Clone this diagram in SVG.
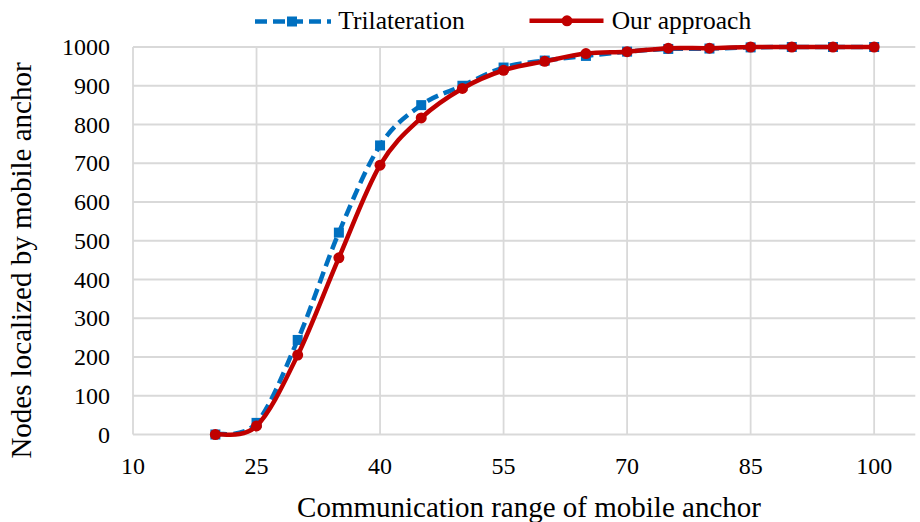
<svg xmlns="http://www.w3.org/2000/svg" width="920" height="522" viewBox="0 0 920 522">
<style>
text{font-family:"Liberation Serif","Times New Roman",serif;fill:#000}
.grid line{stroke:#D9D9D9;stroke-width:1.8}
.yt{font-size:24px;text-anchor:end}
.xt{font-size:24px;text-anchor:middle}
.leg{font-size:25.5px}
.title{font-size:29px;text-anchor:middle}
.blue{fill:none;stroke:#0070C0;stroke-width:4.5;stroke-dasharray:12 6}
.red{fill:none;stroke:#C00000;stroke-width:4.5;stroke-linejoin:round}
</style>
<defs>
<rect id="sq" x="-5" y="-5" width="10" height="10" fill="#0070C0"/>
<circle id="dot" r="5.5" fill="#C00000"/>
</defs>
<rect width="920" height="522" fill="#fff"/>
<g id="gridlines" class="grid">
<line x1="133" y1="47" x2="915.3" y2="47"/>
<line x1="133" y1="85.75" x2="915.3" y2="85.75"/>
<line x1="133" y1="124.5" x2="915.3" y2="124.5"/>
<line x1="133" y1="163.25" x2="915.3" y2="163.25"/>
<line x1="133" y1="202" x2="915.3" y2="202"/>
<line x1="133" y1="240.75" x2="915.3" y2="240.75"/>
<line x1="133" y1="279.5" x2="915.3" y2="279.5"/>
<line x1="133" y1="318.25" x2="915.3" y2="318.25"/>
<line x1="133" y1="357" x2="915.3" y2="357"/>
<line x1="133" y1="395.75" x2="915.3" y2="395.75"/>
<line x1="133" y1="434.5" x2="915.3" y2="434.5"/>
<line x1="133" y1="47" x2="133" y2="434.5"/>
<line x1="256.53" y1="47" x2="256.53" y2="434.5"/>
<line x1="380.05" y1="47" x2="380.05" y2="434.5"/>
<line x1="503.58" y1="47" x2="503.58" y2="434.5"/>
<line x1="627.1" y1="47" x2="627.1" y2="434.5"/>
<line x1="750.63" y1="47" x2="750.63" y2="434.5"/>
<line x1="874.15" y1="47" x2="874.15" y2="434.5"/>
</g>
<g id="y-ticks">
<text class="yt" x="110" y="55.1">1000</text>
<text class="yt" x="110" y="93.85">900</text>
<text class="yt" x="110" y="132.6">800</text>
<text class="yt" x="110" y="171.35">700</text>
<text class="yt" x="110" y="210.1">600</text>
<text class="yt" x="110" y="248.85">500</text>
<text class="yt" x="110" y="287.6">400</text>
<text class="yt" x="110" y="326.35">300</text>
<text class="yt" x="110" y="365.1">200</text>
<text class="yt" x="110" y="403.85">100</text>
<text class="yt" x="110" y="442.6">0</text>
</g>
<g id="x-ticks">
<text class="xt" x="133" y="473.5">10</text>
<text class="xt" x="256.53" y="473.5">25</text>
<text class="xt" x="380.05" y="473.5">40</text>
<text class="xt" x="503.58" y="473.5">55</text>
<text class="xt" x="627.1" y="473.5">70</text>
<text class="xt" x="750.63" y="473.5">85</text>
<text class="xt" x="874.15" y="473.5">100</text>
</g>
<g id="axis-titles">
<text class="title" x="529" y="517">Communication range of mobile anchor</text>
<text class="title" transform="translate(31,260.5) rotate(-90)" x="0" y="0">Nodes localized by mobile anchor</text>
</g>
<g id="connectors">
<path id="series-trilateration" class="blue" d="M215.35,434.5 C222.21,432.56 242.81,438.64 256.53,422.88 C270.26,407.12 283.98,371.66 297.70,339.95 C311.43,308.24 325.16,265.03 338.88,232.61 C352.61,200.19 366.33,166.68 380.05,145.43 C393.78,124.18 407.51,115.08 421.23,105.13 C434.96,95.18 448.68,92.02 462.40,85.75 C476.13,79.48 489.86,71.74 503.58,67.54 C517.31,63.34 531.03,62.5 544.75,60.56 C558.48,58.62 572.21,57.4 585.93,55.91 C599.66,54.42 613.38,52.81 627.10,51.65 C640.83,50.49 654.56,49.46 668.28,48.94 C682.01,48.42 695.73,48.81 709.45,48.55 C723.18,48.29 736.91,47.65 750.63,47.39 C764.36,47.13 778.08,47.07 791.80,47 L832.98,47 L874.15,47"/>
</g>
<g id="markers-trilateration">
<use href="#sq" x="215.35" y="434.5"/>
<use href="#sq" x="256.53" y="422.88"/>
<use href="#sq" x="297.70" y="339.95"/>
<use href="#sq" x="338.88" y="232.61"/>
<use href="#sq" x="380.05" y="145.43"/>
<use href="#sq" x="421.23" y="105.13"/>
<use href="#sq" x="462.40" y="85.75"/>
<use href="#sq" x="503.58" y="67.54"/>
<use href="#sq" x="544.75" y="60.56"/>
<use href="#sq" x="585.93" y="55.91"/>
<use href="#sq" x="627.10" y="51.65"/>
<use href="#sq" x="668.28" y="48.94"/>
<use href="#sq" x="709.45" y="48.55"/>
<use href="#sq" x="750.63" y="47.39"/>
<use href="#sq" x="791.80" y="47"/>
<use href="#sq" x="832.98" y="47"/>
<use href="#sq" x="874.15" y="47"/>
</g>
<g id="connectors-red">
<path id="series-our-approach" class="red" d="M215.35,434.5 C222.21,433.08 242.81,439.22 256.53,425.98 C270.26,412.74 283.98,383.09 297.70,355.06 C311.43,327.03 325.16,289.45 338.88,257.8 C352.61,226.15 366.33,188.5 380.05,165.18 C393.78,141.86 407.51,130.7 421.23,117.91 C434.96,105.12 448.68,96.4 462.40,88.46 C476.13,80.52 489.86,74.77 503.58,70.25 C517.31,65.73 531.03,64.12 544.75,61.34 C558.48,58.56 572.21,55.21 585.93,53.59 C599.66,51.97 613.38,52.56 627.10,51.65 C640.83,50.74 654.56,48.74 668.28,48.16 C682.01,47.58 695.73,48.35 709.45,48.16 C723.18,47.97 736.91,47.19 750.63,47 C764.36,46.81 778.08,47 791.80,47 L832.98,47 L874.15,47"/>
</g>
<g id="markers-our-approach">
<use href="#dot" x="215.35" y="434.5"/>
<use href="#dot" x="256.53" y="425.98"/>
<use href="#dot" x="297.70" y="355.06"/>
<use href="#dot" x="338.88" y="257.8"/>
<use href="#dot" x="380.05" y="165.18"/>
<use href="#dot" x="421.23" y="117.91"/>
<use href="#dot" x="462.40" y="88.46"/>
<use href="#dot" x="503.58" y="70.25"/>
<use href="#dot" x="544.75" y="61.34"/>
<use href="#dot" x="585.93" y="53.59"/>
<use href="#dot" x="627.10" y="51.65"/>
<use href="#dot" x="668.28" y="48.16"/>
<use href="#dot" x="709.45" y="48.16"/>
<use href="#dot" x="750.63" y="47"/>
<use href="#dot" x="791.80" y="47"/>
<use href="#dot" x="832.98" y="47"/>
<use href="#dot" x="874.15" y="47"/>
</g>
<g id="legend">
<g id="legend-trilateration">
<line class="blue" x1="255" y1="21.5" x2="331" y2="21.5"/>
<use href="#sq" x="292" y="21.5"/>
<text class="leg" x="338.3" y="29">Trilateration</text>
</g>
<g id="legend-our-approach">
<line class="red" x1="529.5" y1="20.8" x2="603.5" y2="20.8"/>
<use href="#dot" x="567" y="20.8"/>
<text class="leg" x="611.7" y="29">Our approach</text>
</g>
</g>
</svg>
